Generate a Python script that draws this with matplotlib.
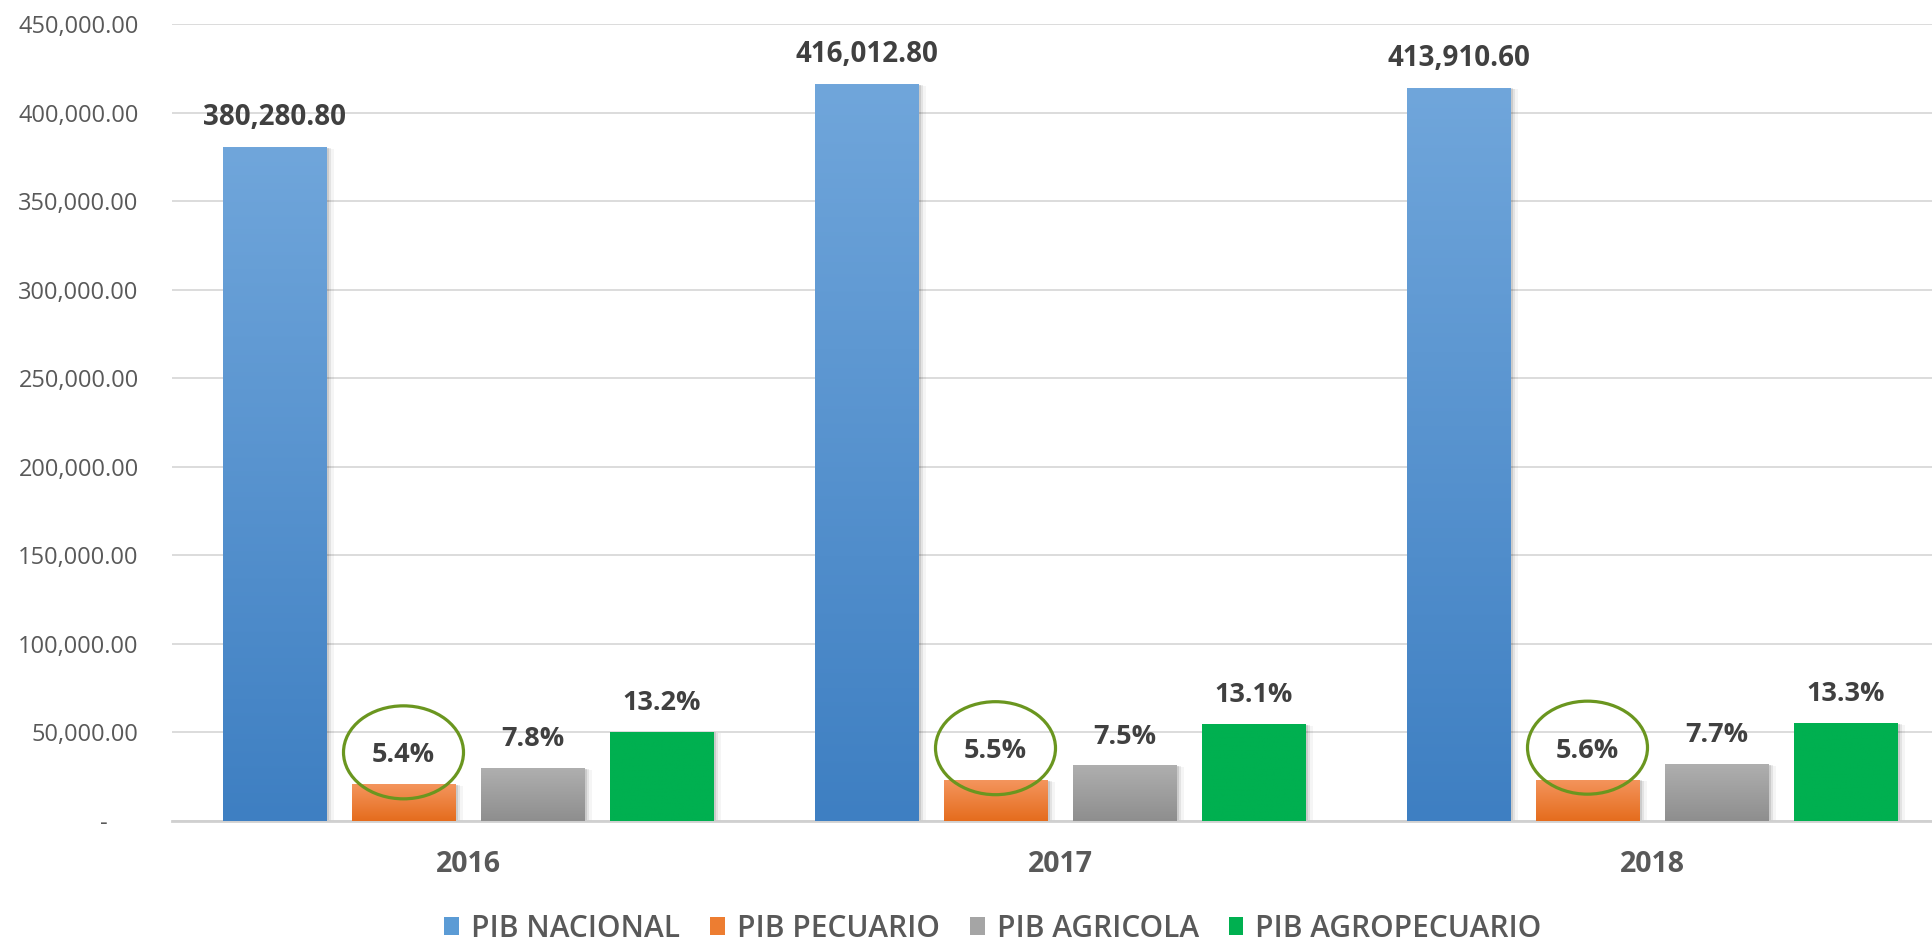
import numpy as np
import matplotlib
matplotlib.use("Agg")
import matplotlib.pyplot as plt
from matplotlib.patches import Ellipse, Patch
from matplotlib.ticker import FuncFormatter
from matplotlib.colors import LinearSegmentedColormap

# ---- data ----
years = ["2016", "2017", "2018"]
series_names = ["PIB NACIONAL", "PIB PECUARIO", "PIB AGRICOLA", "PIB AGROPECUARIO"]
pib_nacional = [380280.80, 416012.80, 413910.60]
pib_pecuario = [20535.0, 22881.0, 23179.0]
pib_agricola = [29662.0, 31201.0, 31871.0]
pib_agropecuario = [50197.0, 54498.0, 55050.0]
nacional_labels = ["380,280.80", "416,012.80", "413,910.60"]
pecuario_labels = ["5.4%", "5.5%", "5.6%"]
agricola_labels = ["7.8%", "7.5%", "7.7%"]
agropecuario_labels = ["13.2%", "13.1%", "13.3%"]
yticks = [0, 50000, 100000, 150000, 200000, 250000, 300000, 350000, 400000, 450000]

series = [pib_nacional, pib_pecuario, pib_agricola, pib_agropecuario]
labels = [nacional_labels, pecuario_labels, agricola_labels, agropecuario_labels]
grad = [("#3E7FC2", "#70A6DB"), ("#E56C1D", "#F4955D"), ("#8E8E8E", "#AFAFAF"), ("#00B050", "#00B050")]
legend_colors = ["#5B9BD5", "#ED7D31", "#A5A5A5", "#00B050"]

plt.rcParams['font.family'] = ['Open Sans', 'DejaVu Sans']

W, H = 1932, 946
fig = plt.figure(figsize=(W / 100, H / 100), dpi=100)
ax_left_px, ax_right_px = 172, 1948
ax_bottom_px, ax_top_px = 946 - 820.7, 946 - 24
ax = fig.add_axes([ax_left_px / W, ax_bottom_px / H,
                   (ax_right_px - ax_left_px) / W, (ax_top_px - ax_bottom_px) / H])

xlim = (-0.5, 2.5)
ylim = (0, 450000)
px_per_x = (ax_right_px - ax_left_px) / (xlim[1] - xlim[0])
px_per_y = (ax_top_px - ax_bottom_px) / (ylim[1] - ylim[0])

step = 129 / px_per_x
width = 104 / px_per_x
x = np.arange(len(years))

for i, (vals, labs, (c0, c1)) in enumerate(zip(series, labels, grad)):
    pos = x + (i - 1.5) * step
    bars = ax.bar(pos, vals, width=width, color=legend_colors[i], zorder=3, linewidth=0)
    cmap = LinearSegmentedColormap.from_list("g%d" % i, [c0, c1])
    for b in bars:
        bx, by, bw, bh = b.get_x(), b.get_y(), b.get_width(), b.get_height()
        # soft shadow
        for k, a in enumerate([0.10, 0.07, 0.04]):
            off = (k + 1) * 1.6
            ax.add_patch(plt.Rectangle((bx + off / px_per_x * 0.5, by), bw + off / px_per_x, bh - off / px_per_y * 0.3,
                                       facecolor="black", alpha=a, linewidth=0, zorder=2))
        g = np.linspace(0, 1, 256).reshape(-1, 1)
        im = ax.imshow(g, cmap=cmap, extent=(bx, bx + bw, by, by + bh), origin="lower",
                       aspect="auto", zorder=3.5)
        im.set_clip_path(b)
    fs = 20 if i == 0 else 19.5
    for xi, v, t in zip(pos, vals, labs):
        ax.annotate(t, (xi, v), xytext=(0, 15.8), textcoords="offset points",
                    ha="center", va="baseline", fontsize=fs, fontweight="bold",
                    color="#404040", zorder=5)
    if i == 1:
        ew = 120 / px_per_x
        eh = 93 / px_per_y
        for xi, v in zip(pos, vals):
            cy = v + 32 / px_per_y
            ax.add_patch(Ellipse((xi, cy), ew, eh, fill=False, edgecolor="#6A961F",
                                 linewidth=2.3, zorder=6))

ax.set_xlim(*xlim)
ax.set_ylim(*ylim)
ax.set_yticks(yticks)
ax.yaxis.set_major_formatter(FuncFormatter(lambda v, p: "-     " if v == 0 else f"{v:,.2f}"))
ax.set_xticks(x)
ax.set_xticklabels(years, fontsize=20.5, fontweight="bold", color="#595959")
ax.tick_params(axis="y", length=0, pad=24, labelsize=17, labelcolor="#595959")
ax.tick_params(axis="x", length=0, pad=21)
ax.grid(axis="y", color="#D9D9D9", linewidth=1.3, zorder=0)
ax.set_axisbelow(True)
for s in ["top", "right", "left"]:
    ax.spines[s].set_visible(False)
ax.spines["bottom"].set_color("#D0D0D0")
ax.spines["bottom"].set_linewidth(2)

handles = [Patch(facecolor=c, edgecolor="none") for c in legend_colors]
fig.legend(handles, series_names, loc="center", bbox_to_anchor=(993 / W, 1 - 929 / H),
           ncol=4, frameon=False, handlelength=0.5, handleheight=0.55,
           handletextpad=0.4, columnspacing=1.0, labelcolor="#595959",
           borderpad=0.1, prop={"size": 21.5, "weight": "semibold"})

fig.savefig("out.png", dpi=100)
